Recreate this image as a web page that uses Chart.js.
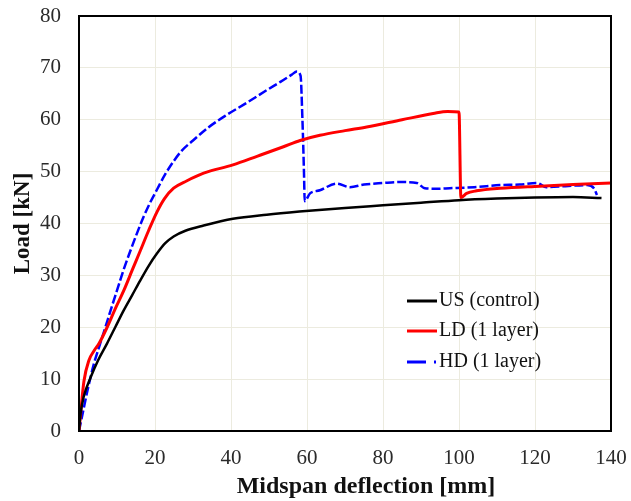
<!DOCTYPE html>
<html>
<head>
<meta charset="utf-8">
<script src="https://cdn.jsdelivr.net/npm/chart.js@4.4.0/dist/chart.umd.min.js"></script>
<style>
  html, body { margin: 0; padding: 0; background: #fff; }
  #wrap { width: 631px; height: 501px; }
</style>
</head>
<body>
<div id="wrap"><canvas id="loadChart"></canvas></div>
<script>
// load-deflection readings
const usDefl = [0, 0.4, 1.2, 3.1, 5, 7.4, 9.6, 11.8, 14, 16.1, 18.3, 20.5, 22.7, 24.9, 28, 32.8, 40.5, 49.4, 58, 70, 80, 90, 100, 110, 120, 130, 137.5];
const usLoad = [0, 3.3, 6.5, 10.4, 13.6, 16.9, 20.1, 23.3, 26.2, 29, 31.8, 34.2, 36.2, 37.5, 38.6, 39.6, 40.9, 41.7, 42.3, 43, 43.5, 44, 44.5, 44.8, 45, 45.1, 44.9];

const ldDefl = [0, 0.5, 1.3, 2.6, 4, 5.3, 7.4, 9.5, 11.8, 14, 16.1, 18.3, 20.5, 22.5, 24.9, 28.3, 32.8, 40.5, 47, 53.8, 58.2, 63.4, 70, 75.7, 85, 93.2, 97, 100, 100.5, 102, 104.6, 110.8, 121.3, 130, 140];
const ldLoad = [0, 4, 9.6, 13.6, 15.5, 16.9, 20, 23.5, 27.1, 31, 34.7, 38.6, 42.2, 44.8, 46.8, 48.2, 49.7, 51.3, 53, 54.8, 56, 57, 57.9, 58.6, 60, 61.2, 61.6, 61.5, 45, 45.8, 46.3, 46.8, 47.2, 47.5, 47.8];

const hdDefl = [0, 1, 2.2, 3.9, 5.2, 6.6, 8.3, 10, 11.7, 13.5, 15.2, 17, 18.7, 20.5, 22.7, 24.9, 27, 30, 34, 38.8, 44, 49.4, 53, 56, 57.3, 58.3, 58.8, 59.2, 59.4, 60.8, 63.4, 67.8, 71.3, 75, 80, 84.5, 88.9, 91, 94, 97.6, 104, 110.8, 116, 120.5, 123, 128, 133.7, 135.5, 136.3];
const hdLoad = [0, 3.5, 7.7, 12.9, 16, 19.2, 23.2, 27.1, 31, 34.7, 38, 41.3, 44, 46.5, 49.5, 52, 54, 56, 58.5, 60.9, 63.2, 65.7, 67.3, 68.7, 69.3, 68.5, 60, 50, 44.3, 45.8, 46.4, 47.7, 47, 47.5, 47.8, 48, 47.8, 46.8, 46.7, 46.8, 47, 47.4, 47.5, 47.8, 47, 47.2, 47.4, 46.8, 45.5];

const seriesNames = ["US (control)", "LD (1 layer)", "HD (1 layer)"];
const xTicks = [0, 20, 40, 60, 80, 100, 120, 140];
const yTicks = [0, 10, 20, 30, 40, 50, 60, 70, 80];
const xTitle = 'Midspan deflection [mm]';
const yTitle = 'Load [kN]';

function pts(xs, ys) {
  return xs.map((x, i) => ({ x: x, y: ys[i] }));
}

const serif = "'Liberation Serif', 'Times New Roman', serif";

// box round the plot area
const frame = {
  id: 'frame',
  afterDatasetsDraw(chart) {
    const a = chart.chartArea, ctx = chart.ctx;
    ctx.save();
    ctx.strokeStyle = '#000';
    ctx.lineWidth = 2;
    ctx.strokeRect(a.left, a.top, a.right - a.left, a.bottom - a.top);
    ctx.restore();
  }
};

// x title sits a bit right of the plot centre in the original
const xTitlePlugin = {
  id: 'xTitlePlugin',
  afterDraw(chart) {
    const ctx = chart.ctx;
    ctx.save();
    ctx.font = 'bold 24px ' + serif;
    ctx.fillStyle = '#111';
    ctx.textAlign = 'center';
    ctx.textBaseline = 'middle';
    ctx.fillText(xTitle, 366, 487);
    ctx.restore();
  }
};

// legend drawn inside the plot, lower right
const insideLegend = {
  id: 'insideLegend',
  afterDraw(chart) {
    const ctx = chart.ctx;
    const x0 = 407, x1 = 437, rows = [301, 331, 362];
    ctx.save();
    ctx.font = '20px ' + serif;
    ctx.textBaseline = 'middle';
    chart.data.datasets.forEach((ds, i) => {
      const y = rows[i];
      ctx.strokeStyle = ds.borderColor;
      ctx.lineWidth = 3;
      ctx.setLineDash(i === 2 ? [19, 8, 2, 20] : []);
      ctx.beginPath();
      ctx.moveTo(x0, y);
      ctx.lineTo(x1, y);
      ctx.stroke();
      ctx.fillStyle = '#111';
      ctx.fillText(ds.label, x1 + 2, y);
    });
    ctx.restore();
  }
};

new Chart(document.getElementById('loadChart'), {
  type: 'line',
  data: {
    datasets: [{
      label: seriesNames[0],
      data: pts(usDefl, usLoad),
      borderColor: '#000000',
      borderWidth: 2.5
    }, {
      label: seriesNames[1],
      data: pts(ldDefl, ldLoad),
      borderColor: '#ff0000',
      borderWidth: 3
    }, {
      label: seriesNames[2],
      data: pts(hdDefl, hdLoad),
      borderColor: '#0000ff',
      borderWidth: 2.5,
      borderDash: [9, 3]
    }]
  },
  options: {
    responsive: true,
    maintainAspectRatio: false,
    animation: false,
    parsing: false,
    elements: {
      point: { radius: 0 },
      line: { cubicInterpolationMode: 'monotone', fill: false }
    },
    layout: { padding: { left: 0, right: 20, top: 16, bottom: 0 } },
    plugins: {
      legend: { display: false },
      tooltip: { enabled: false }
    },
    scales: {
      x: {
        type: 'linear',
        min: 0,
        max: 140,
        afterBuildTicks(s) { s.ticks = xTicks.map(v => ({ value: v })); },
        afterFit(s) { s.height = 70; s.paddingLeft = 0; s.paddingRight = 0; },
        grid: { color: '#ecebdf', lineWidth: 1, drawTicks: false },
        border: { display: false },
        ticks: { padding: 15, color: '#2a2a2a', font: { family: serif, size: 21 } },
        title: { display: false }
      },
      y: {
        type: 'linear',
        min: 0,
        max: 80,
        afterBuildTicks(s) { s.ticks = yTicks.map(v => ({ value: v })); },
        afterFit(s) { s.width = 79; s.paddingTop = 0; s.paddingBottom = 0; },
        grid: { color: '#ecebdf', lineWidth: 1, drawTicks: false },
        border: { display: false },
        ticks: { padding: 18, color: '#2a2a2a', font: { family: serif, size: 21 } },
        title: {
          display: true,
          text: yTitle,
          color: '#111',
          font: { family: serif, size: 23, weight: 'bold' },
          padding: { top: 9, bottom: 0 }
        }
      }
    }
  },
  plugins: [frame, xTitlePlugin, insideLegend]
});
</script>
</body>
</html>
